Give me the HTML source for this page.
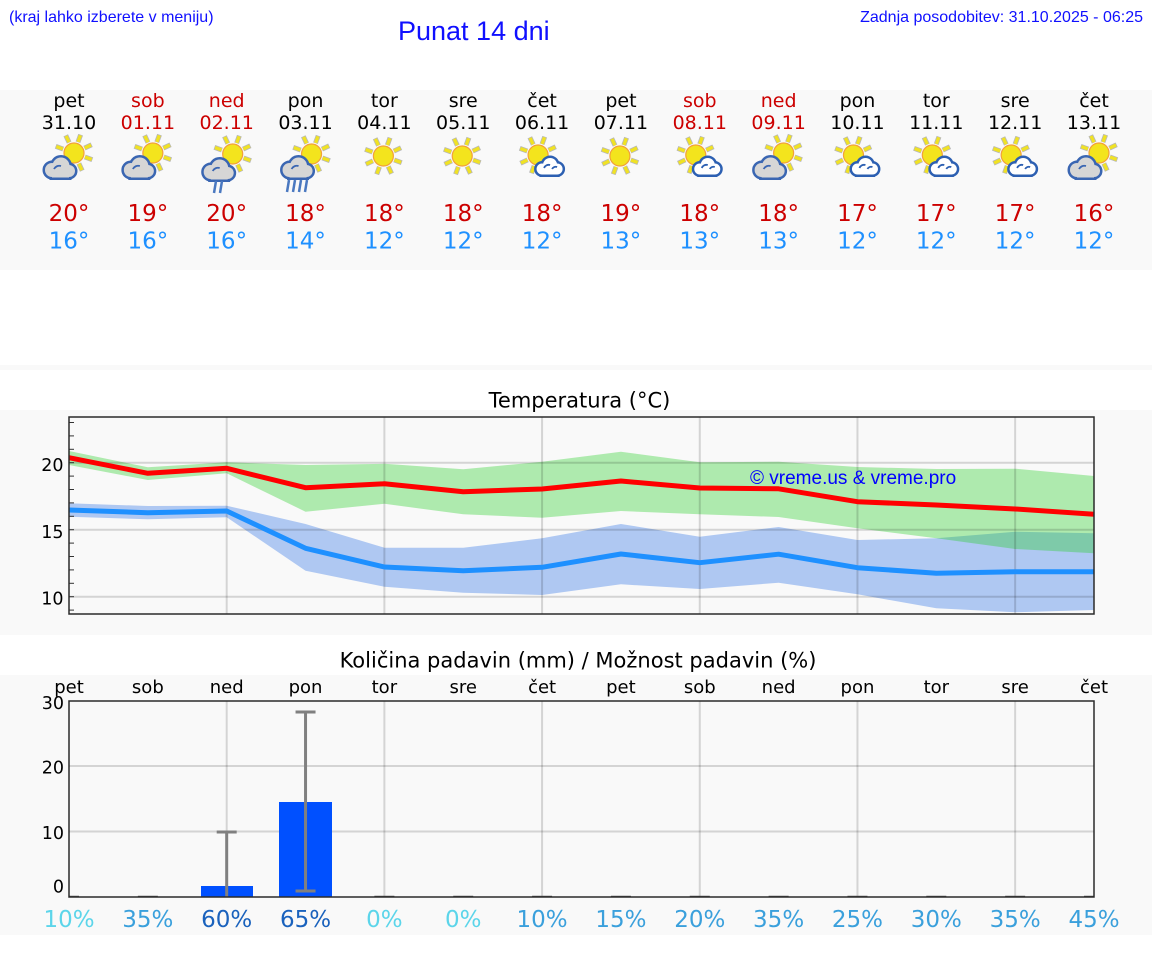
<!DOCTYPE html>
<html><head><meta charset="utf-8"><style>
html,body{margin:0;padding:0;background:#fff;}
svg{display:block;}
</style></head><body>
<svg width="1152" height="975" viewBox="0 0 1152 975" xmlns="http://www.w3.org/2000/svg" xmlns:xlink="http://www.w3.org/1999/xlink">
<defs>
  <g id="ray">
    <line x1="0" y1="-11.5" x2="0" y2="-19.5" stroke="#b8b8b8" stroke-width="5"/>
    <line x1="0" y1="-11.8" x2="0" y2="-18.8" stroke="#f0e224" stroke-width="3.3"/>
  </g>
  <g id="sun">
    <use href="#ray" transform="rotate(20)"/>
    <use href="#ray" transform="rotate(65)"/>
    <use href="#ray" transform="rotate(110)"/>
    <use href="#ray" transform="rotate(155)"/>
    <use href="#ray" transform="rotate(200)"/>
    <use href="#ray" transform="rotate(245)"/>
    <use href="#ray" transform="rotate(290)"/>
    <use href="#ray" transform="rotate(335)"/>
    <circle cx="0" cy="0" r="10" fill="#f3e41d" stroke="#f2a03a" stroke-width="1.2"/>
  </g>
  <g id="gcloud">
    <g stroke="#3a66b2" stroke-width="5" fill="#3a66b2">
      <circle cx="9" cy="13" r="7"/>
      <circle cx="18" cy="9" r="8.5"/>
      <circle cx="26" cy="14" r="6"/>
      <rect x="9" y="12" width="17" height="8.5"/>
    </g>
    <g fill="#d6d6d6">
      <circle cx="9" cy="13" r="7"/>
      <circle cx="18" cy="9" r="8.5"/>
      <circle cx="26" cy="14" r="6"/>
      <rect x="9" y="12" width="17" height="8.5"/>
    </g>
    <path d="M11,12 A6,6 0 0 1 18,9" fill="none" stroke="#3a66b2" stroke-width="1.8"/>
  </g>
  <g id="wcloud">
    <g stroke="#2d60b2" stroke-width="5" fill="#2d60b2">
      <circle cx="7" cy="12" r="5.5"/>
      <circle cx="15" cy="8" r="7"/>
      <circle cx="22" cy="12" r="5.5"/>
      <rect x="7" y="11" width="15" height="6.5"/>
    </g>
    <g fill="#ffffff">
      <circle cx="7" cy="12" r="5.5"/>
      <circle cx="15" cy="8" r="7"/>
      <circle cx="22" cy="12" r="5.5"/>
      <rect x="7" y="11" width="15" height="6.5"/>
    </g>
    <path d="M9,11 A5,5 0 0 1 15,8" fill="none" stroke="#2d60b2" stroke-width="1.8"/>
    <path d="M17,12 A4,4 0 0 1 22,10" fill="none" stroke="#2d60b2" stroke-width="1.8"/>
  </g>
  <clipPath id="tclip"><rect x="69" y="417" width="1025" height="197"/></clipPath>
  <clipPath id="pclip"><rect x="69" y="701" width="1025" height="196"/></clipPath>
</defs>

<!-- backgrounds -->
<rect x="0" y="0" width="1152" height="975" fill="#ffffff"/>
<rect x="0" y="90" width="1152" height="180" fill="#f9f9f9"/>
<rect x="0" y="365" width="1152" height="5" fill="#f9f9f9"/>
<rect x="0" y="410" width="1152" height="225" fill="#f9f9f9"/>
<rect x="0" y="675" width="1152" height="260" fill="#f9f9f9"/>

<!-- header -->
<g font-family="Liberation Sans, Arial, sans-serif" fill="#1010ff">
  <text x="9" y="22" font-size="16">(kraj lahko izberete v meniju)</text>
  <text x="398" y="40" font-size="27">Punat 14 dni</text>
  <text x="1143" y="22" font-size="16" text-anchor="end">Zadnja posodobitev: 31.10.2025 - 06:25</text>
</g>

<!-- day header -->
<g font-family="DejaVu Sans, sans-serif" font-size="19" text-anchor="middle">
  <text x="69" y="107">pet</text><text x="69" y="129">31.10</text>
  <text x="147.85" y="107" fill="#cc0000">sob</text><text x="147.85" y="129" fill="#cc0000">01.11</text>
  <text x="226.69" y="107" fill="#cc0000">ned</text><text x="226.69" y="129" fill="#cc0000">02.11</text>
  <text x="305.54" y="107">pon</text><text x="305.54" y="129">03.11</text>
  <text x="384.38" y="107">tor</text><text x="384.38" y="129">04.11</text>
  <text x="463.23" y="107">sre</text><text x="463.23" y="129">05.11</text>
  <text x="542.08" y="107">čet</text><text x="542.08" y="129">06.11</text>
  <text x="620.92" y="107">pet</text><text x="620.92" y="129">07.11</text>
  <text x="699.77" y="107" fill="#cc0000">sob</text><text x="699.77" y="129" fill="#cc0000">08.11</text>
  <text x="778.62" y="107" fill="#cc0000">ned</text><text x="778.62" y="129" fill="#cc0000">09.11</text>
  <text x="857.46" y="107">pon</text><text x="857.46" y="129">10.11</text>
  <text x="936.31" y="107">tor</text><text x="936.31" y="129">11.11</text>
  <text x="1015.15" y="107">sre</text><text x="1015.15" y="129">12.11</text>
  <text x="1094" y="107">čet</text><text x="1094" y="129">13.11</text>
</g>

<!-- icons -->
<use href="#sun" transform="translate(74,153)"/>
<use href="#gcloud" transform="translate(43,157)"/>
<use href="#sun" transform="translate(152.85,153)"/>
<use href="#gcloud" transform="translate(121.85,157)"/>
<use href="#sun" transform="translate(232.69,154)"/>
<use href="#gcloud" transform="translate(201.69,159)"/>
<g stroke="#4a78c0" stroke-width="2.5">
  <line x1="216" y1="181" x2="214" y2="193"/>
  <line x1="222" y1="181" x2="220" y2="193"/>
</g>
<use href="#sun" transform="translate(311.54,154)"/>
<use href="#gcloud" transform="translate(280.54,157)"/>
<g stroke="#4a78c0" stroke-width="2.5">
  <line x1="289" y1="180" x2="287" y2="192"/>
  <line x1="295" y1="180" x2="293" y2="192"/>
  <line x1="301" y1="180" x2="299" y2="192"/>
  <line x1="307" y1="180" x2="305" y2="192"/>
</g>
<use href="#sun" transform="translate(383.38,156)"/>
<use href="#sun" transform="translate(462.23,156)"/>
<use href="#sun" transform="translate(538.08,155)"/>
<use href="#wcloud" transform="translate(535.08,157)"/>
<use href="#sun" transform="translate(619.92,156)"/>
<use href="#sun" transform="translate(695.77,155)"/>
<use href="#wcloud" transform="translate(692.77,157)"/>
<use href="#sun" transform="translate(783.62,153)"/>
<use href="#gcloud" transform="translate(752.62,157)"/>
<use href="#sun" transform="translate(853.46,155)"/>
<use href="#wcloud" transform="translate(850.46,157)"/>
<use href="#sun" transform="translate(932.31,155)"/>
<use href="#wcloud" transform="translate(929.31,157)"/>
<use href="#sun" transform="translate(1011.15,155)"/>
<use href="#wcloud" transform="translate(1008.15,157)"/>
<use href="#sun" transform="translate(1099,153)"/>
<use href="#gcloud" transform="translate(1068,157)"/>

<!-- temps -->
<g font-family="DejaVu Sans, sans-serif" font-size="23" text-anchor="middle">
  <g fill="#cc0000">
    <text x="69" y="221">20°</text><text x="147.85" y="221">19°</text><text x="226.69" y="221">20°</text>
    <text x="305.54" y="221">18°</text><text x="384.38" y="221">18°</text><text x="463.23" y="221">18°</text>
    <text x="542.08" y="221">18°</text><text x="620.92" y="221">19°</text><text x="699.77" y="221">18°</text>
    <text x="778.62" y="221">18°</text><text x="857.46" y="221">17°</text><text x="936.31" y="221">17°</text>
    <text x="1015.15" y="221">17°</text><text x="1094" y="221">16°</text>
  </g>
  <g fill="#1e90ff">
    <text x="69" y="248.5">16°</text><text x="147.85" y="248.5">16°</text><text x="226.69" y="248.5">16°</text>
    <text x="305.54" y="248.5">14°</text><text x="384.38" y="248.5">12°</text><text x="463.23" y="248.5">12°</text>
    <text x="542.08" y="248.5">12°</text><text x="620.92" y="248.5">13°</text><text x="699.77" y="248.5">13°</text>
    <text x="778.62" y="248.5">13°</text><text x="857.46" y="248.5">12°</text><text x="936.31" y="248.5">12°</text>
    <text x="1015.15" y="248.5">12°</text><text x="1094" y="248.5">12°</text>
  </g>
</g>

<!-- Temperature chart -->
<text x="579.5" y="407.5" font-family="DejaVu Sans, sans-serif" font-size="21" text-anchor="middle">Temperatura (°C)</text>
<g clip-path="url(#tclip)">
  <polygon fill="#afc8f2" points="69,503.3 147.85,506 226.69,505.7 305.54,524 384.38,547.7 463.23,547.7 542.08,538.3 620.92,524 699.77,536.7 778.62,527 857.46,540 936.31,538.3 1015.15,531.7 1094,533.3 1094,610 1015.15,612.3 936.31,608.3 857.46,594.3 778.62,582.7 699.77,589 620.92,584.3 542.08,595 463.23,592.7 384.38,586.7 305.54,570.7 226.69,517.3 147.85,519.3 69,516.7"/>
  <polygon fill="rgba(33,206,33,0.35)" points="69,451 147.85,467.3 226.69,462.3 305.54,465 384.38,463.8 463.23,469.3 542.08,461.7 620.92,451.7 699.77,462.3 778.62,461.7 857.46,467 936.31,469 1015.15,468.7 1094,476 1094,553.3 1015.15,549 936.31,538.3 857.46,528.3 778.62,517 699.77,514.3 620.92,511 542.08,517.7 463.23,514.3 384.38,503.8 305.54,511.7 226.69,473.3 147.85,480 69,465"/>
  <g stroke="rgba(0,0,0,0.15)" stroke-width="2">
    <line x1="69" y1="462.7" x2="1094" y2="462.7"/>
    <line x1="69" y1="529.7" x2="1094" y2="529.7"/>
    <line x1="69" y1="596.7" x2="1094" y2="596.7"/>
    <line x1="226.69" y1="417" x2="226.69" y2="614"/>
    <line x1="384.38" y1="417" x2="384.38" y2="614"/>
    <line x1="542.08" y1="417" x2="542.08" y2="614"/>
    <line x1="699.77" y1="417" x2="699.77" y2="614"/>
    <line x1="857.46" y1="417" x2="857.46" y2="614"/>
    <line x1="1015.15" y1="417" x2="1015.15" y2="614"/>
  </g>
  <polyline fill="none" stroke="#ff0000" stroke-width="5" stroke-linejoin="round" points="69,457.7 147.85,473.3 226.69,468.3 305.54,487.7 384.38,483.8 463.23,491.7 542.08,489 620.92,481 699.77,488 778.62,488.8 857.46,501.7 936.31,505 1015.15,509 1094,514.3"/>
  <polyline fill="none" stroke="#1e90ff" stroke-width="5" stroke-linejoin="round" points="69,510 147.85,512.7 226.69,511 305.54,548.3 384.38,567 463.23,570.7 542.08,567.3 620.92,554 699.77,562.7 778.62,554.2 857.46,567.7 936.31,573.3 1015.15,571.7 1094,571.7"/>
</g>
<text x="750" y="484" font-family="Liberation Sans, Arial, sans-serif" font-size="19" fill="#0000ff">© vreme.us &amp; vreme.pro</text>
<g stroke="#333" stroke-width="1">
  <line x1="69" y1="610.1" x2="74" y2="610.1"/>
  <line x1="69" y1="596.7" x2="74" y2="596.7"/>
  <line x1="69" y1="583.3" x2="74" y2="583.3"/>
  <line x1="69" y1="569.9" x2="74" y2="569.9"/>
  <line x1="69" y1="556.5" x2="74" y2="556.5"/>
  <line x1="69" y1="543.1" x2="74" y2="543.1"/>
  <line x1="69" y1="529.7" x2="74" y2="529.7"/>
  <line x1="69" y1="516.3" x2="74" y2="516.3"/>
  <line x1="69" y1="502.9" x2="74" y2="502.9"/>
  <line x1="69" y1="489.5" x2="74" y2="489.5"/>
  <line x1="69" y1="476.1" x2="74" y2="476.1"/>
  <line x1="69" y1="462.7" x2="74" y2="462.7"/>
  <line x1="69" y1="449.3" x2="74" y2="449.3"/>
  <line x1="69" y1="435.9" x2="74" y2="435.9"/>
  <line x1="69" y1="422.5" x2="74" y2="422.5"/>
</g>
<rect x="69" y="417" width="1025" height="197" fill="none" stroke="#2a2a2a" stroke-width="1.5"/>
<g font-family="DejaVu Sans, sans-serif" font-size="17.5" text-anchor="end">
  <text x="63.5" y="471">20</text>
  <text x="63.5" y="538">15</text>
  <text x="63.5" y="604.5">10</text>
</g>

<!-- Precipitation chart -->
<text x="578" y="667.5" font-family="DejaVu Sans, sans-serif" font-size="21" text-anchor="middle">Količina padavin (mm) / Možnost padavin (%)</text>
<g font-family="DejaVu Sans, sans-serif" font-size="18" text-anchor="middle">
  <text x="69" y="693">pet</text><text x="147.85" y="693">sob</text><text x="226.69" y="693">ned</text>
  <text x="305.54" y="693">pon</text><text x="384.38" y="693">tor</text><text x="463.23" y="693">sre</text>
  <text x="542.08" y="693">čet</text><text x="620.92" y="693">pet</text><text x="699.77" y="693">sob</text>
  <text x="778.62" y="693">ned</text><text x="857.46" y="693">pon</text><text x="936.31" y="693">tor</text>
  <text x="1015.15" y="693">sre</text><text x="1094" y="693">čet</text>
</g>
<g clip-path="url(#pclip)">
  <g stroke="rgba(0,0,0,0.15)" stroke-width="2">
    <line x1="69" y1="766" x2="1094" y2="766"/>
    <line x1="69" y1="831.5" x2="1094" y2="831.5"/>
    <line x1="226.69" y1="701" x2="226.69" y2="897"/>
    <line x1="384.38" y1="701" x2="384.38" y2="897"/>
    <line x1="542.08" y1="701" x2="542.08" y2="897"/>
    <line x1="699.77" y1="701" x2="699.77" y2="897"/>
    <line x1="857.46" y1="701" x2="857.46" y2="897"/>
    <line x1="1015.15" y1="701" x2="1015.15" y2="897"/>
  </g>
  <rect x="201" y="886" width="52" height="11" fill="#0050ff"/>
  <rect x="279" y="802" width="53" height="95" fill="#0050ff"/>
  <g stroke="#808080" stroke-width="3">
    <line x1="226.69" y1="832" x2="226.69" y2="897"/>
    <line x1="216.69" y1="832" x2="236.69" y2="832"/>
    <line x1="305.54" y1="712" x2="305.54" y2="891"/>
    <line x1="295.54" y1="712" x2="315.54" y2="712"/>
    <line x1="295.54" y1="891" x2="315.54" y2="891"/>
  </g>
  <g stroke="#555" stroke-width="2.5">
    <line x1="59" y1="897" x2="79" y2="897"/>
    <line x1="137.85" y1="897" x2="157.85" y2="897"/>
    <line x1="374.38" y1="897" x2="394.38" y2="897"/>
    <line x1="453.23" y1="897" x2="473.23" y2="897"/>
    <line x1="532.08" y1="897" x2="552.08" y2="897"/>
    <line x1="610.92" y1="897" x2="630.92" y2="897"/>
    <line x1="689.77" y1="897" x2="709.77" y2="897"/>
    <line x1="768.62" y1="897" x2="788.62" y2="897"/>
    <line x1="847.46" y1="897" x2="867.46" y2="897"/>
    <line x1="926.31" y1="897" x2="946.31" y2="897"/>
    <line x1="1005.15" y1="897" x2="1025.15" y2="897"/>
    <line x1="1084" y1="897" x2="1104" y2="897"/>
  </g>
</g>
<rect x="69" y="701" width="1025" height="196" fill="none" stroke="#2a2a2a" stroke-width="1.5"/>
<g font-family="DejaVu Sans, sans-serif" font-size="17.5" text-anchor="end">
  <text x="64" y="709">30</text>
  <text x="64" y="773.5">20</text>
  <text x="64" y="839">10</text>
  <text x="64" y="892.5">0</text>
</g>
<g font-family="DejaVu Sans, sans-serif" font-size="23" text-anchor="middle">
  <text x="69" y="927" fill="#5cd5ea">10%</text>
  <text x="147.85" y="927" fill="#3aa0dc">35%</text>
  <text x="226.69" y="927" fill="#1a62bd">60%</text>
  <text x="305.54" y="927" fill="#1a62bd">65%</text>
  <text x="384.38" y="927" fill="#5cd5ea">0%</text>
  <text x="463.23" y="927" fill="#5cd5ea">0%</text>
  <text x="542.08" y="927" fill="#3aa0dc">10%</text>
  <text x="620.92" y="927" fill="#3aa0dc">15%</text>
  <text x="699.77" y="927" fill="#3aa0dc">20%</text>
  <text x="778.62" y="927" fill="#3aa0dc">35%</text>
  <text x="857.46" y="927" fill="#3aa0dc">25%</text>
  <text x="936.31" y="927" fill="#3aa0dc">30%</text>
  <text x="1015.15" y="927" fill="#3aa0dc">35%</text>
  <text x="1094" y="927" fill="#3aa0dc">45%</text>
</g>
</svg>
</body></html>
